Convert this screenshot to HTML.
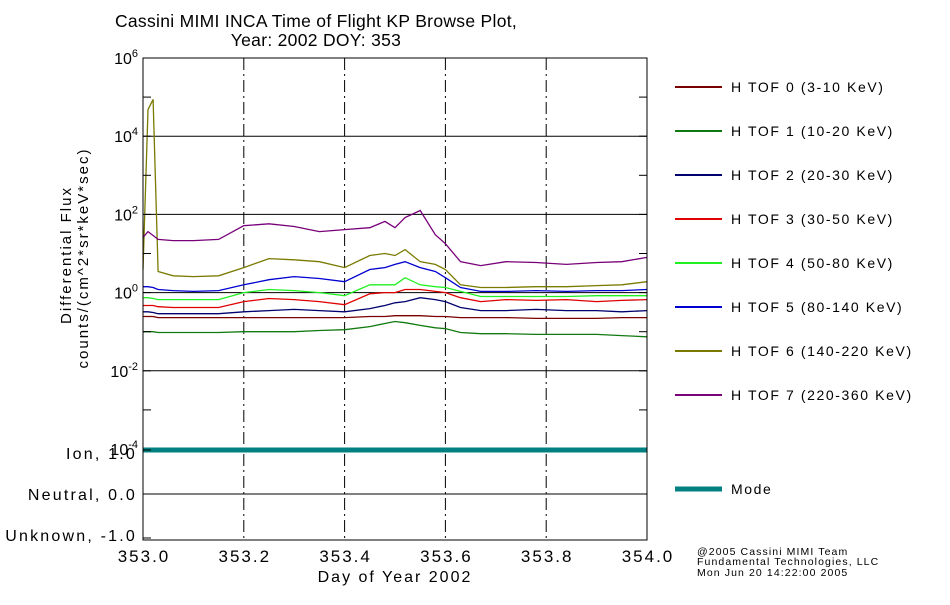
<!DOCTYPE html>
<html><head><meta charset="utf-8"><style>
body{margin:0;background:#fff;width:950px;height:600px;overflow:hidden}
svg{font-family:"Liberation Sans",sans-serif}
</style></head><body>
<svg id="chart" width="950" height="600" viewBox="0 0 950 600">
<g font-size="17.5" letter-spacing="0.3" text-anchor="middle" fill="#000">
<text x="316" y="27">Cassini MIMI INCA Time of Flight KP Browse Plot,</text>
<text x="316" y="46">Year: 2002 DOY: 353</text>
</g>
<g id="grid"></g>
<g id="series"></g>
<g id="axes"></g>
<g id="legend"></g>
<g font-size="15" letter-spacing="2" text-anchor="middle">
<text transform="translate(71,255) rotate(-90)">Differential Flux</text>
<text transform="translate(88,258) rotate(-90)">counts/(cm^2*sr*keV*sec)</text>
</g>
<text x="395" y="582" font-size="16" letter-spacing="2" text-anchor="middle">Day of Year 2002</text>
<g font-size="10.5" letter-spacing="1.1">
<text x="697" y="555">@2005 Cassini MIMI Team</text>
<text x="697" y="565">Fundamental Technologies, LLC</text>
<text x="697" y="576">Mon Jun 20 14:22:00 2005</text>
</g>
</svg>
<script>
const days=[353.0,353.01,353.02,353.03,353.06,353.1,353.15,353.2,353.25,353.3,353.35,353.4,353.45,353.48,353.5,353.52,353.55,353.58,353.6,353.63,353.67,353.72,353.78,353.84,353.9,353.95,354.0];
const tof0Log=[-0.61,-0.61,-0.61,-0.64,-0.64,-0.64,-0.64,-0.64,-0.64,-0.64,-0.64,-0.64,-0.61,-0.61,-0.59,-0.59,-0.59,-0.61,-0.61,-0.64,-0.64,-0.64,-0.66,-0.66,-0.66,-0.64,-0.64];
const tof1Log=[-1.00,-1.00,-1.00,-1.02,-1.02,-1.02,-1.02,-1.00,-1.00,-1.00,-0.97,-0.95,-0.87,-0.79,-0.74,-0.77,-0.84,-0.90,-0.92,-1.02,-1.05,-1.05,-1.07,-1.07,-1.07,-1.10,-1.13];
const tof2Log=[-0.49,-0.49,-0.51,-0.54,-0.54,-0.54,-0.54,-0.49,-0.46,-0.43,-0.46,-0.49,-0.41,-0.33,-0.26,-0.23,-0.13,-0.18,-0.23,-0.38,-0.46,-0.46,-0.43,-0.46,-0.46,-0.49,-0.46];
const tof3Log=[-0.33,-0.33,-0.33,-0.36,-0.38,-0.38,-0.38,-0.23,-0.15,-0.18,-0.23,-0.31,-0.03,0,0,0.08,0.08,0.03,0,-0.13,-0.23,-0.18,-0.20,-0.18,-0.23,-0.20,-0.18];
const tof4Log=[-0.13,-0.13,-0.15,-0.18,-0.18,-0.18,-0.18,0,0.08,0.05,0,-0.08,0.20,0.20,0.20,0.38,0.20,0.15,0.13,0.03,-0.10,-0.10,-0.10,-0.10,-0.08,-0.08,-0.08];
const tof5Log=[0.15,0.15,0.13,0.08,0.05,0.03,0.05,0.20,0.33,0.41,0.36,0.28,0.59,0.64,0.72,0.79,0.64,0.54,0.38,0.13,0.03,0.03,0.05,0.03,0.05,0.05,0.08];
const tof6Log=[0.59,4.68,4.94,0.54,0.43,0.41,0.43,0.64,0.87,0.84,0.79,0.64,0.95,1.00,0.95,1.10,0.79,0.72,0.59,0.20,0.13,0.13,0.15,0.15,0.18,0.20,0.28];
const tof7Log=[1.41,1.56,1.46,1.36,1.33,1.33,1.36,1.71,1.76,1.69,1.56,1.61,1.66,1.82,1.66,1.92,2.10,1.48,1.25,0.79,0.69,0.79,0.77,0.72,0.77,0.79,0.90];
const modeDays=[353.0,354.0];
const modeVals=[1.0,1.0];
const xTicks=[353.0,353.2,353.4,353.6,353.8,354.0];
const xTickLabels=["353.0","353.2","353.4","353.6","353.8","354.0"];
const yDecades=[6,4,2,0,-2,-4];
const modeTicks=[1,0,-1];
const modeTickLabels=["Ion, 1.0","Neutral, 0.0","Unknown, -1.0"];
const seriesNames=["H TOF 0 (3-10 KeV)","H TOF 1 (10-20 KeV)","H TOF 2 (20-30 KeV)","H TOF 3 (30-50 KeV)","H TOF 4 (50-80 KeV)","H TOF 5 (80-140 KeV)","H TOF 6 (140-220 KeV)","H TOF 7 (220-360 KeV)"];
const seriesColors=["#7a0000","#107a10","#00006e","#e00000","#20f020","#0000d0","#7a7a00","#780078"];
const seriesData=[tof0Log,tof1Log,tof2Log,tof3Log,tof4Log,tof5Log,tof6Log,tof7Log];

const NS="http://www.w3.org/2000/svg";
const L=143,R=647,T=58,B=449,MB=540;
const xs=d=>L+(d-353)/(354-353)*(R-L);
const ys=lg=>T+(6-lg)/10*(B-T);
const ym=v=>494-v*44;
function mk(parent,tag,attrs){const e=document.createElementNS(NS,tag);for(const k in attrs)e.setAttribute(k,attrs[k]);document.getElementById(parent).appendChild(e);return e;}
yDecades.forEach(d=>{if(d<6&&d>-4){const l=mk('grid','line',{x1:L,x2:R,y1:ys(d),y2:ys(d),stroke:'#000','stroke-width':1});

}});
const z=mk('grid','line',{x1:L,x2:R,y1:ym(0),y2:ym(0),stroke:'#000','stroke-width':1});


xTicks.forEach((t,i)=>{if(i>0&&i<xTicks.length-1){const l=mk('grid','line',{x1:xs(t),x2:xs(t),y1:T,y2:MB,stroke:'#000','stroke-width':1,'stroke-dasharray':'12,4,2,4'});

}});
seriesData.forEach((arr,i)=>{const pts=arr.map((v,j)=>xs(days[j]).toFixed(1)+','+ys(v).toFixed(1)).join(' ');
const p=mk('series','polyline',{points:pts,fill:'none',stroke:seriesColors[i],'stroke-width':1.3});

});
const mp=mk('series','polyline',{points:modeDays.map((d,j)=>xs(d)+','+ym(modeVals[j])).join(' '),fill:'none',stroke:'#008080','stroke-width':5});


const fr=mk('axes','rect',{x:L,y:T,width:R-L,height:MB-T,fill:'none',stroke:'#000','stroke-width':1});


for(let d=5;d>-4;d--){[L,R].forEach(x=>{const t=mk('axes','line',{x1:x,x2:x===L?x+8:x-8,y1:ys(d),y2:ys(d),stroke:'#000'});

});}
yDecades.forEach(d=>{const t=mk('axes','text',{x:L-5,y:ys(d)+6,'text-anchor':'end','font-size':16});


t.innerHTML='10<tspan dy="-7" font-size="11">'+d+'</tspan>';});
modeTicks.forEach((v,i)=>{const t=mk('axes','text',{x:L-6,y:494-v*41+6,'text-anchor':'end','font-size':16,'letter-spacing':2.2});


t.textContent=modeTickLabels[i];
const tk=mk('axes','line',{x1:L,x2:L+8,y1:ym(v),y2:ym(v),stroke:'#000'});

});
xTicks.forEach((tv,i)=>{const t=mk('axes','text',{x:xs(tv)+1,y:562,'text-anchor':'middle','font-size':17,'letter-spacing':2});


t.textContent=xTickLabels[i];});
seriesNames.forEach((n,i)=>{const y=87+i*44;
const l=mk('legend','line',{x1:675,x2:722,y1:y,y2:y,stroke:seriesColors[i],'stroke-width':2});


const t=mk('legend','text',{x:731,y:y+5,'font-size':14,'letter-spacing':1.6});


t.textContent=n;});
const ml=mk('legend','line',{x1:675,x2:722,y1:489,y2:489,stroke:'#008080','stroke-width':5});


const mt=mk('legend','text',{x:731,y:494,'font-size':14,'letter-spacing':1.6});


mt.textContent='Mode';
</script>
</body></html>
